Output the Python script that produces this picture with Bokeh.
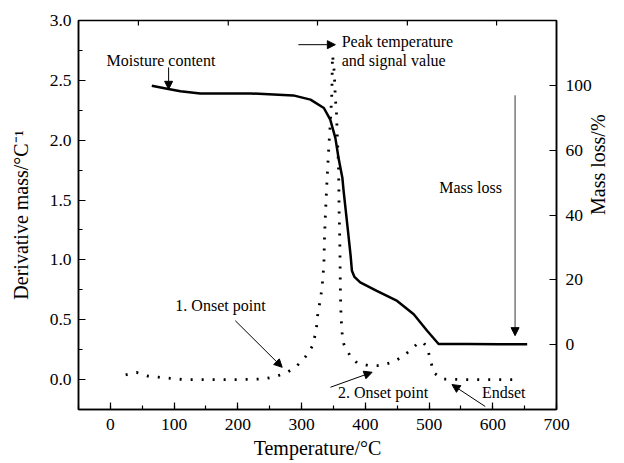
import math
from bokeh.plotting import figure
from bokeh.models import (Range1d, LinearAxis, FixedTicker, SingleIntervalTicker,
                          Label, Arrow, NormalHead, PrintfTickFormatter)
from bokeh.embed import file_html
from bokeh.resources import INLINE

# ---- data ----
tg_temp = [65, 91, 110, 141, 220, 287, 314, 335, 345, 353, 358, 364, 366, 372,
           377, 379, 383, 392, 418, 450, 476, 497, 515, 560, 610, 654]
tg_mass = [79.9, 78.9, 78.2, 77.5, 77.5, 76.9, 75.6, 73.0, 69.4, 63.8, 57.6, 51.5,
           47.4, 36.6, 27.4, 22.8, 20.9, 19.2, 16.6, 13.5, 9.4, 4.3, 0.2, 0.2, 0.1, 0.1]

dtg_temp = [24, 41, 58, 76, 94, 114, 150, 200, 240, 259, 276, 292, 306, 317, 323,
            325, 328.5, 332, 335, 336, 337.5, 339.5, 341, 342.7, 345.3, 347.5, 348.5,
            350.5, 352, 353, 354.7, 355.8, 356.8, 358, 358.5, 359, 360, 360.5, 361,
            362, 363.6, 366, 377, 387, 405, 424, 442, 458, 473, 484, 491, 497, 502,
            507, 520, 560, 600, 638]
dtg_val = [0.04, 0.06, 0.03, 0.02, 0.01, 0.0, 0.0, 0.0, 0.005, 0.025, 0.055, 0.11,
           0.19, 0.28, 0.41, 0.53, 0.64, 0.76, 0.96, 1.19, 1.39, 1.62, 1.77, 1.94,
           2.16, 2.39, 2.71, 2.63, 2.48, 2.35, 2.24, 2.075, 1.94, 1.77, 1.60, 1.38,
           1.16, 0.94, 0.71, 0.52, 0.39, 0.30, 0.19, 0.14, 0.117, 0.117, 0.144, 0.19,
           0.256, 0.311, 0.31, 0.27, 0.17, 0.06, 0.005, 0.0, 0.0, 0.0]

mass_tick_pos = [0, 20, 40, 60, 80]
mass_tick_labels = ["0", "20", "40", "60", "100"]
top_ticks = [44, 185, 325, 466, 606]

FONT = "Liberation Serif"
Y_MIN, Y_MAX = -0.25, 3.0

p = figure(width=624, height=463, x_range=(-50, 700), y_range=(Y_MIN, Y_MAX),
           output_backend="svg", toolbar_location=None,
           min_border_left=78, min_border_right=68, min_border_top=20,
           min_border_bottom=54)
p.background_fill_color = "white"
p.border_fill_color = "white"
p.grid.visible = False
p.outline_line_color = "black"
p.outline_line_width = 1.5

p.extra_y_ranges = {"mass": Range1d(-20, 100)}

def style_axis(ax, major_in=7, minor_in=4):
    ax.axis_line_color = "black"
    ax.axis_line_width = 1.5
    ax.major_tick_in = major_in
    ax.major_tick_out = 0
    ax.minor_tick_in = minor_in
    ax.minor_tick_out = 0
    ax.major_tick_line_color = "black"
    ax.minor_tick_line_color = "black"
    ax.major_tick_line_width = 1.2
    ax.minor_tick_line_width = 1.2
    ax.major_label_text_font = FONT
    ax.major_label_text_font_size = "17.5px"
    ax.major_label_text_color = "black"
    ax.axis_label_text_font = FONT
    ax.axis_label_text_font_size = "20px"
    ax.axis_label_text_font_style = "normal"
    ax.axis_label_text_color = "black"

xa = p.xaxis[0]
xa.ticker = SingleIntervalTicker(interval=100, num_minor_ticks=2)
xa.axis_label = "Temperature/°C"
style_axis(xa)
xa.major_label_standoff = 9
xa.axis_label_standoff = 4

ya = p.yaxis[0]
ya.ticker = SingleIntervalTicker(interval=0.5, num_minor_ticks=2)
ya.formatter = PrintfTickFormatter(format="%.1f")
ya.axis_label = "Derivative mass/°C⁻¹"
style_axis(ya)
ya.major_label_standoff = 7
ya.axis_label_standoff = 15

ra = LinearAxis(y_range_name="mass", ticker=FixedTicker(ticks=mass_tick_pos),
                major_label_overrides={t: l for t, l in zip(mass_tick_pos, mass_tick_labels)},
                axis_label="Mass loss/%")
style_axis(ra, minor_in=0)
ra.major_label_standoff = 9
ra.axis_label_standoff = 3
if "axis_label_orientation" in ra.properties():
    ra.axis_label_orientation = math.pi / 2
p.add_layout(ra, "right")

# short ticks along the top frame edge
n_top = len(top_ticks)
p.segment(x0=top_ticks, y0=[Y_MAX] * n_top, x1=top_ticks, y1=[Y_MAX - 0.042] * n_top,
          line_color="black", line_width=1.2)

# curves
p.line(dtg_temp, dtg_val, line_color="black", line_width=2.8, line_dash="2 9")
p.line(tg_temp, tg_mass, y_range_name="mass", line_color="black", line_width=2.5)

# annotations
def lab(x, y, t):
    p.add_layout(Label(x=x, y=y, text=t, text_font=FONT, text_font_size="16px",
                       text_color="black", text_align="left", text_baseline="middle"))

lab(-6, 2.667, "Moisture content")
lab(363, 2.825, "Peak temperature")
lab(363, 2.667, "and signal value")
lab(516, 1.608, "Mass loss")
lab(102, 0.617, "1. Onset point")
lab(357, -0.106, "2. Onset point")
lab(583, -0.106, "Endset")

def arr(x0, y0, x1, y1, w=1.0):
    p.add_layout(Arrow(end=NormalHead(size=8, fill_color="black", line_color="black",
                                      line_width=1),
                       x_start=x0, y_start=y0, x_end=x1, y_end=y1,
                       line_color="black", line_width=w))

arr(91.4, 2.608, 91.4, 2.425)
arr(295, 2.798, 353, 2.798)
arr(635, 2.375, 635, 0.367, 0.8)
arr(196, 0.492, 269.6, 0.1025)
arr(345.3, -0.064, 410.7, 0.061)
arr(588.2, -0.225, 536, -0.042)

open("out.html", "w").write(file_html(p, INLINE))
